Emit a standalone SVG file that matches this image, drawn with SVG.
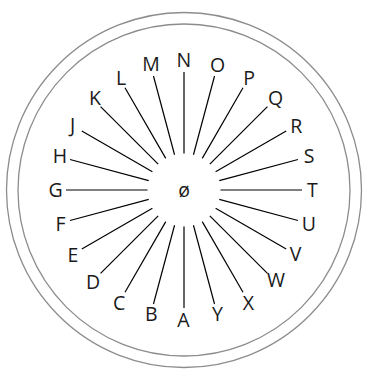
<svg xmlns="http://www.w3.org/2000/svg" width="366" height="382" viewBox="0 0 366 382">
<style>
.ring{fill:none;stroke:#8c8c8c;stroke-width:1.3}
.ray{stroke:#000;stroke-width:1.2;fill:none}
text{font-family:"Open Sans","Noto Sans","DejaVu Sans",sans-serif;font-size:19.5px;fill:#1a1a1a;text-anchor:middle}
</style>
<rect width="366" height="382" fill="#fff"/>
<g id="rings">
<circle class="ring" cx="184" cy="190" r="177.5"/>
<circle class="ring" cx="184" cy="190" r="166"/>
</g>
<g id="connectors">
<line class="ray" x1="184" y1="226.5" x2="184" y2="308"/>
<line class="ray" x1="174.55" y1="225.26" x2="153.46" y2="303.98"/>
<line class="ray" x1="165.75" y1="221.61" x2="125" y2="292.19"/>
<line class="ray" x1="158.19" y1="215.81" x2="100.56" y2="273.44"/>
<line class="ray" x1="152.39" y1="208.25" x2="81.81" y2="249"/>
<line class="ray" x1="148.74" y1="199.45" x2="70.02" y2="220.54"/>
<line class="ray" x1="147.5" y1="190" x2="66" y2="190"/>
<line class="ray" x1="148.74" y1="180.55" x2="70.02" y2="159.46"/>
<line class="ray" x1="152.39" y1="171.75" x2="81.81" y2="131"/>
<line class="ray" x1="158.19" y1="164.19" x2="100.56" y2="106.56"/>
<line class="ray" x1="165.75" y1="158.39" x2="125" y2="87.81"/>
<line class="ray" x1="174.55" y1="154.74" x2="153.46" y2="76.02"/>
<line class="ray" x1="184" y1="153.5" x2="184" y2="72"/>
<line class="ray" x1="193.45" y1="154.74" x2="214.54" y2="76.02"/>
<line class="ray" x1="202.25" y1="158.39" x2="243" y2="87.81"/>
<line class="ray" x1="209.81" y1="164.19" x2="267.44" y2="106.56"/>
<line class="ray" x1="215.61" y1="171.75" x2="286.19" y2="131"/>
<line class="ray" x1="219.26" y1="180.55" x2="297.98" y2="159.46"/>
<line class="ray" x1="220.5" y1="190" x2="302" y2="190"/>
<line class="ray" x1="219.26" y1="199.45" x2="297.98" y2="220.54"/>
<line class="ray" x1="215.61" y1="208.25" x2="286.19" y2="249"/>
<line class="ray" x1="209.81" y1="215.81" x2="267.44" y2="273.44"/>
<line class="ray" x1="202.25" y1="221.61" x2="243" y2="292.19"/>
<line class="ray" x1="193.45" y1="225.26" x2="214.54" y2="303.98"/>
</g>
<g id="center"><text x="184" y="196.8">ø</text></g>
<g id="A"><text x="183.5" y="327">A</text></g>
<g id="B"><text x="151.3" y="321.2">B</text></g>
<g id="C"><text x="119.2" y="309.8">C</text></g>
<g id="D"><text x="93" y="288.8">D</text></g>
<g id="E"><text x="72.8" y="262">E</text></g>
<g id="F"><text x="60.5" y="231.2">F</text></g>
<g id="G"><text x="55.5" y="197">G</text></g>
<g id="H"><text x="60" y="162.8">H</text></g>
<g id="J"><text x="72.7" y="132.3">J</text></g>
<g id="K"><text x="95" y="105">K</text></g>
<g id="L"><text x="121" y="85.3">L</text></g>
<g id="M"><text x="151" y="71.2">M</text></g>
<g id="N"><text x="183.8" y="66.7">N</text></g>
<g id="O"><text x="217.5" y="71.8">O</text></g>
<g id="P"><text x="249" y="84.5">P</text></g>
<g id="Q"><text x="275.5" y="105">Q</text></g>
<g id="R"><text x="296.3" y="132.8">R</text></g>
<g id="S"><text x="309" y="162.8">S</text></g>
<g id="T"><text x="312.3" y="197">T</text></g>
<g id="U"><text x="308.8" y="230.8">U</text></g>
<g id="V"><text x="295.5" y="261.4">V</text></g>
<g id="W"><text x="276" y="287">W</text></g>
<g id="X"><text x="248.3" y="309.5">X</text></g>
<g id="Y"><text x="217.5" y="321.2">Y</text></g>
</svg>
